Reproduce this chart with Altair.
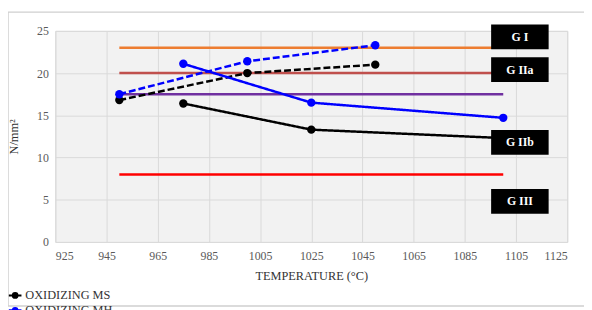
import altair as alt
import pandas as pd

# ---- data ----
ms_solid_t = [975, 1025, 1100]
ms_solid_v = [16.4, 13.3, 12.3]
ms_dash_t = [950, 1000, 1050]
ms_dash_v = [16.8, 20.0, 21.0]
mh_solid_t = [975, 1025, 1100]
mh_solid_v = [21.1, 16.5, 14.7]
mh_dash_t = [950, 1000, 1050]
mh_dash_v = [17.5, 21.4, 23.3]

ref_names = ["G I line", "G IIa line", "G IIb line", "G III line"]
ref_values = [23, 20, 17.5, 8]
ref_colors = ["#ed7d31", "#c0504d", "#7030a0", "#ff0000"]
ref_start = 950
ref_end = 1100

box_labels = ["G I", "G IIa", "G IIb", "G III"]
box_y = [24.3, 20.4, 11.8, 4.8]
box_x = 1106.5

x_ticks = list(range(925, 1126, 20))
y_ticks = [0, 5, 10, 15, 20, 25]

FONT = "Liberation Serif, Times New Roman, serif"

rows = []
for grp, var, ts, vs in [
    ("OXIDIZING MS", "solid", ms_solid_t, ms_solid_v),
    ("OXIDIZING MS", "dash", ms_dash_t, ms_dash_v),
    ("OXIDIZING MH", "solid", mh_solid_t, mh_solid_v),
    ("OXIDIZING MH", "dash", mh_dash_t, mh_dash_v),
]:
    for t, v in zip(ts, vs):
        rows.append({"group": grp, "variant": var, "series": grp + " " + var, "t": t, "v": v})
df = pd.DataFrame(rows)

ref_rows = []
for n, v in zip(ref_names, ref_values):
    ref_rows.append({"name": n, "t": ref_start, "v": v})
    ref_rows.append({"name": n, "t": ref_end, "v": v})
ref_df = pd.DataFrame(ref_rows)

box_df = pd.DataFrame({"label": box_labels, "y": box_y, "x": [box_x] * len(box_labels)})

xscale = alt.Scale(domain=[925, 1125], nice=False)
yscale = alt.Scale(domain=[0, 25], nice=False)

xaxis = alt.Axis(values=x_ticks, title="TEMPERATURE (°C)", grid=True, format="d")
yaxis = alt.Axis(values=y_ticks, title="N/mm²", grid=True, format="d")

frame = alt.Chart(pd.DataFrame({"a": [0]})).mark_rect(
    fill=None, stroke="#d0d0d0", strokeWidth=1.5
).encode(
    x=alt.value(-48), x2=alt.value(560), y=alt.value(-19), y2=alt.value(279)
)

refs = alt.Chart(ref_df).mark_line(strokeWidth=2.5).encode(
    x=alt.X("t:Q", scale=xscale, axis=xaxis),
    y=alt.Y("v:Q", scale=yscale, axis=yaxis),
    stroke=alt.Stroke("name:N", scale=alt.Scale(domain=ref_names, range=ref_colors), legend=None),
    detail="name:N",
)

color_scale = alt.Scale(domain=["OXIDIZING MS", "OXIDIZING MH"], range=["#000000", "#0000ff"])
legend_shape = "M-1.6,0H-0.6M0.6,0H1.6M-0.6,0A0.6,0.6 0 1,0 0.6,0A0.6,0.6 0 1,0 -0.6,0Z"

lines = alt.Chart(df).mark_line(strokeWidth=2.5).encode(
    x="t:Q",
    y="v:Q",
    color=alt.Color(
        "group:N",
        scale=color_scale,
        legend=alt.Legend(
            title=None, orient="none", legendX=-47, legendY=262,
            symbolType=legend_shape, symbolSize=64, symbolStrokeWidth=2,
            labelFont=FONT, labelFontSize=12.5, labelColor="#333333",
            rowPadding=1, labelOffset=4, padding=0,
        ),
    ),
    strokeDash=alt.StrokeDash(
        "variant:N",
        scale=alt.Scale(domain=["solid", "dash"], range=[[1, 0], [7, 3]]),
        legend=None,
    ),
    detail="series:N",
)

points = alt.Chart(df).mark_circle(size=72, opacity=1).encode(
    x="t:Q",
    y="v:Q",
    color=alt.Color("group:N", scale=color_scale),
)

boxes = alt.Chart(box_df).mark_point(
    shape="M-1,-0.43H1V0.43H-1Z", size=3400, filled=True, fill="#000000", opacity=1, strokeWidth=0
).encode(x="x:Q", y="y:Q")

box_text = alt.Chart(box_df).mark_text(
    color="white", font=FONT, fontWeight="bold", fontSize=12
).encode(x="x:Q", y="y:Q", text="label:N")

chart = alt.layer(frame, refs, lines, points, boxes, box_text).properties(
    width=519, height=214,
    autosize=alt.AutoSizeParams(type="none"),
    padding={"left": 48, "top": 21, "right": 17, "bottom": 80},
).configure(
    font=FONT
).configure_view(
    fill="#f2f2f2", stroke="#d9d9d9"
).configure_axis(
    gridColor="#d9d9d9", gridWidth=1, domain=False, ticks=False,
    labelFont=FONT, labelFontSize=12, labelColor="#595959",
    titleFont=FONT, titleFontSize=12.5, titleColor="#333333", titleFontWeight="normal",
).configure_axisX(
    labelPadding=9, titlePadding=8,
).configure_axisY(
    labelPadding=7, titlePadding=16,
).configure_legend(
    labelFont=FONT
)

chart.save("out.html", embed_options={"renderer": "svg", "actions": False})
